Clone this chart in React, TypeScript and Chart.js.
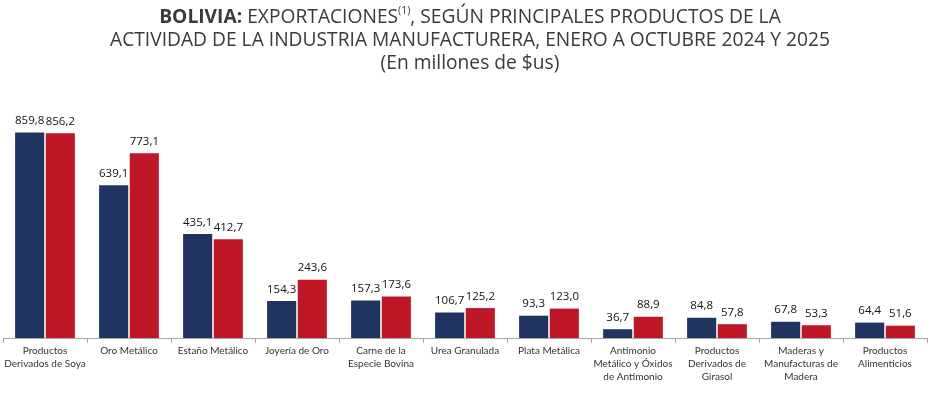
import React, { useEffect, useRef } from "react";
import { Chart, registerables } from "chart.js";

Chart.register(...registerables);

const categories: (string | string[])[] = [
  ["Productos", "Derivados de Soya"],
  "Oro Metálico",
  "Estaño Metálico",
  "Joyería de Oro",
  ["Carne de la", "Especie Bovina"],
  "Urea Granulada",
  "Plata Metálica",
  ["Antimonio", "Metálico y Óxidos", "de Antimonio"],
  ["Productos", "Derivados de", "Girasol"],
  ["Maderas y", "Manufacturas de", "Madera"],
  ["Productos", "Alimenticios"],
];

const values2024 = [859.8, 639.1, 435.1, 154.3, 157.3, 106.7, 93.3, 36.7, 84.8, 67.8, 64.4];
const values2025 = [856.2, 773.1, 412.7, 243.6, 173.6, 125.2, 123.0, 88.9, 57.8, 53.3, 51.6];

const TITLE_BOLD = "BOLIVIA:";
const TITLE_L1A = " EXPORTACIONES";
const TITLE_SUP = "(1)";
const TITLE_L1B = ", SEGÚN PRINCIPALES PRODUCTOS DE LA";
const TITLE_L2 = "ACTIVIDAD DE LA INDUSTRIA MANUFACTURERA, ENERO A OCTUBRE 2024 Y 2025";
const TITLE_L3 = "(En millones de $us)";

const NAVY = "#1f3461";
const RED = "#be1827";
const TITLE_COLOR = "#3a3a3a";

const fmt = (v: number) => v.toFixed(1).replace(".", ",");

const titlePlugin = {
  id: "titleText",
  afterDraw(chart: any) {
    const ctx = chart.ctx as CanvasRenderingContext2D;
    const fam = '"Open Sans", sans-serif';
    const reg = `20px ${fam}`;
    const bold = `bold 20px ${fam}`;
    const sup = `11px ${fam}`;
    ctx.save();
    ctx.fillStyle = TITLE_COLOR;
    ctx.textBaseline = "middle";
    ctx.font = reg;
    const w2 = ctx.measureText(TITLE_L2).width;
    const sx = 720 / w2;
    const cx = 470;
    ctx.translate(cx, 0);
    ctx.scale(sx, 1);
    ctx.font = bold;
    const wb = ctx.measureText(TITLE_BOLD).width;
    ctx.font = reg;
    const wa = ctx.measureText(TITLE_L1A).width;
    const wc = ctx.measureText(TITLE_L1B).width;
    ctx.font = sup;
    const ws = ctx.measureText(TITLE_SUP).width;
    const total = wb + wa + ws + wc;
    let x = -total / 2;
    ctx.textAlign = "left";
    ctx.font = bold;
    ctx.fillText(TITLE_BOLD, x, 17);
    x += wb;
    ctx.font = reg;
    ctx.fillText(TITLE_L1A, x, 17);
    x += wa;
    ctx.font = sup;
    ctx.fillText(TITLE_SUP, x, 11);
    x += ws;
    ctx.font = reg;
    ctx.fillText(TITLE_L1B, x, 17);
    ctx.textAlign = "center";
    ctx.fillText(TITLE_L2, 0, 40);
    ctx.fillText(TITLE_L3, 0, 63);
    ctx.restore();
  },
};

const valueLabelPlugin = {
  id: "valueLabels",
  afterDatasetsDraw(chart: any) {
    const ctx = chart.ctx as CanvasRenderingContext2D;
    ctx.save();
    ctx.font = '11.5px "Open Sans", sans-serif';
    ctx.fillStyle = "#111111";
    ctx.textAlign = "center";
    ctx.textBaseline = "bottom";
    chart.data.datasets.forEach((ds: any, i: number) => {
      const meta = chart.getDatasetMeta(i);
      meta.data.forEach((el: any, j: number) => {
        ctx.fillText(fmt(ds.data[j]), el.x, el.y - 6);
      });
    });
    ctx.restore();
  },
};

export default function App() {
  const ref = useRef<HTMLCanvasElement | null>(null);

  useEffect(() => {
    document.body.style.margin = "0";
    if (!ref.current) return;
    const chart = new Chart(ref.current, {
      type: "bar",
      data: {
        labels: categories as any,
        datasets: [
          {
            label: "2024",
            data: values2024,
            backgroundColor: NAVY,
            categoryPercentage: 0.73,
            barPercentage: 0.95,
          },
          {
            label: "2025",
            data: values2025,
            backgroundColor: RED,
            categoryPercentage: 0.73,
            barPercentage: 0.95,
          },
        ],
      },
      options: {
        animation: false,
        responsive: true,
        maintainAspectRatio: false,
        layout: { padding: { left: 3, right: 24, top: 99, bottom: 0 } },
        plugins: {
          legend: { display: false },
          tooltip: { enabled: false },
          title: { display: false },
        },
        scales: {
          x: {
            offset: true,
            grid: {
              offset: true,
              drawOnChartArea: false,
              drawTicks: true,
              tickLength: 5,
              color: "#a6a6a6",
            },
            border: { display: true, color: "#a6a6a6", width: 1 },
            ticks: {
              color: "#333333",
              font: { family: "Lato, sans-serif", size: 10, lineHeight: 1.3 },
              padding: 1,
              maxRotation: 0,
              autoSkip: false,
            },
            afterFit(scale: any) {
              scale.height = 55;
            },
          },
          y: { display: false, min: 0, max: 1000 },
        },
      },
      plugins: [valueLabelPlugin, titlePlugin],
    });
    return () => chart.destroy();
  }, []);

  return (
    <div style={{ position: "relative", width: 951, height: 393 }}>
      <canvas ref={ref} />
    </div>
  );
}
